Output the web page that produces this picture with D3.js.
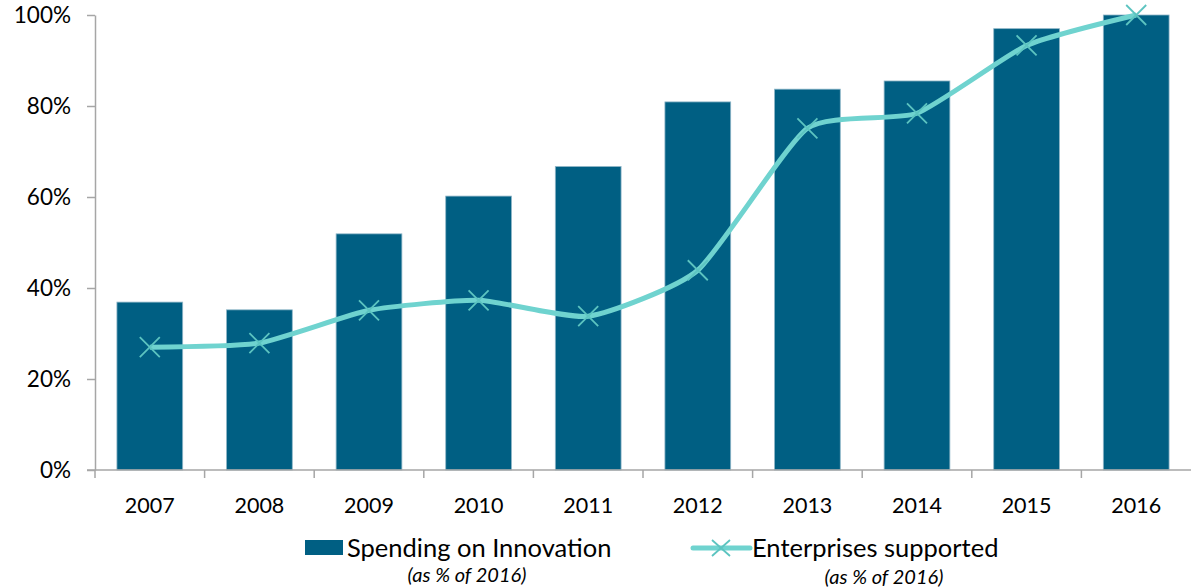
<!DOCTYPE html>
<html>
<head>
<meta charset="utf-8">
<script src="https://cdn.jsdelivr.net/npm/d3@7"></script>
<style>
  body { margin: 0; background: #fff; }
  text { font-family: Lato, "Open Sans", sans-serif; fill: #000; }
</style>
</head>
<body>
<svg id="chart" width="1192" height="588"></svg>
<script>
// data (% of 2016)
var years = ["2007","2008","2009","2010","2011","2012","2013","2014","2015","2016"]
var spending = [36.9, 35.2, 51.9, 60.2, 66.7, 80.9, 83.7, 85.5, 97.0, 100]
var enterprises = [27.0, 27.9, 35.1, 37.3, 33.8, 43.9, 75.1, 78.4, 93.3, 100]
var yTicks = [0, 20, 40, 60, 80, 100]

var svg = d3.select("#chart")
let pLeft = 95, pRight = 1191, pTop = 15, pBottom = 470

var x = d3.scaleBand().domain(years).range([pLeft, pRight]).paddingInner(0.4).paddingOuter(0.2)
var xs = d3.scaleBand().domain(years).range([pLeft, pRight])  // for boundary ticks
var y = d3.scaleLinear().domain([0, 100]).range([pBottom, pTop])

// bars
svg.selectAll(".bar")
    .data(years)
    .enter()
    .append("rect")
    .attr("class", "bar")
    .attr("x", d => x(d))
    .attr("width", x.bandwidth())
    .attr("y", (d, i) => y(spending[i]))
    .attr("height", (d, i) => y(0) - y(spending[i]))
    .attr("fill", "#005f83")
    .attr("stroke", "#8fb6c8")
    .attr("stroke-width", 0.8)

// y axis
var yAxis = d3.axisLeft(y).tickValues(yTicks).tickFormat(d => d + "%").tickSize(8).tickSizeOuter(0).tickPadding(16)
var gy = svg.append("g").attr("transform", `translate(${pLeft},0)`).call(yAxis)
gy.select(".domain").attr("stroke", "#a6a6a6").attr("stroke-width", 1.5)
gy.selectAll(".tick line").attr("stroke", "#a6a6a6").attr("stroke-width", 1.5)
gy.selectAll(".tick text").style("font-size", "22.5px")

// x axis line + boundary ticks
var gx = svg.append("g").attr("transform", `translate(0,${pBottom})`)
gx.append("line").attr("x1", pLeft - 8).attr("x2", pRight).attr("stroke", "#a6a6a6").attr("stroke-width", 1.5)
gx.selectAll(".xt")
    .data(years)
    .enter()
    .append("line")
    .attr("x1", d => xs(d)).attr("x2", d => xs(d))
    .attr("y1", 0).attr("y2", 8)
    .attr("stroke", "#a6a6a6").attr("stroke-width", 1.5)
gx.selectAll(".xl")
    .data(years)
    .enter()
    .append("text")
    .attr("x", d => xs(d) + xs.bandwidth() / 2)
    .attr("y", 43)
    .attr("text-anchor", "middle")
    .style("font-size", "21.5px")
    .text(d => d)

// line
var line = d3.line()
    .x((d, i) => xs(years[i]) + xs.bandwidth() / 2)
    .y(d => y(d))
    .curve(d3.curveCardinal.tension(0.45))

svg.append("path")
    .datum(enterprises)
    .attr("d", line)
    .attr("fill", "none")
    .attr("stroke", "#6fd3cf")
    .attr("stroke-width", 5)
    .attr("stroke-linejoin", "round")

// x markers
var m = 10
svg.selectAll(".mk")
    .data(enterprises)
    .enter()
    .append("path")
    .attr("d", (d, i) => {
        let cx = xs(years[i]) + xs.bandwidth() / 2, cy = y(d)
        return `M${cx-m},${cy-m}L${cx+m},${cy+m}M${cx-m},${cy+m}L${cx+m},${cy-m}`
    })
    .attr("stroke", "#5cc4c0")
    .attr("stroke-width", 1.8)
    .attr("fill", "none")

// legend
var lg = svg.append("g")
lg.append("rect").attr("x", 305).attr("y", 540).attr("width", 38).attr("height", 15).attr("fill", "#005f83")
lg.append("text").attr("x", 347).attr("y", 557).style("font-size", "25.5px").text("Spending on Innovation")
lg.append("text").attr("x", 467).attr("y", 582).attr("text-anchor", "middle")
    .style("font-size", "20px").style("font-style", "italic").text("(as % of 2016)")

lg.append("line").attr("x1", 693).attr("x2", 750).attr("y1", 548).attr("y2", 548)
    .attr("stroke", "#6fd3cf").attr("stroke-width", 5).attr("stroke-linecap", "round")
lg.append("path").attr("d", "M712,540L730,556M712,556L730,540").attr("stroke", "#5cc4c0").attr("stroke-width", 1.8)
lg.append("text").attr("x", 752).attr("y", 557).style("font-size", "25.5px").text("Enterprises supported")
lg.append("text").attr("x", 884).attr("y", 584).attr("text-anchor", "middle")
    .style("font-size", "20px").style("font-style", "italic").text("(as % of 2016)")
</script>
</body>
</html>
